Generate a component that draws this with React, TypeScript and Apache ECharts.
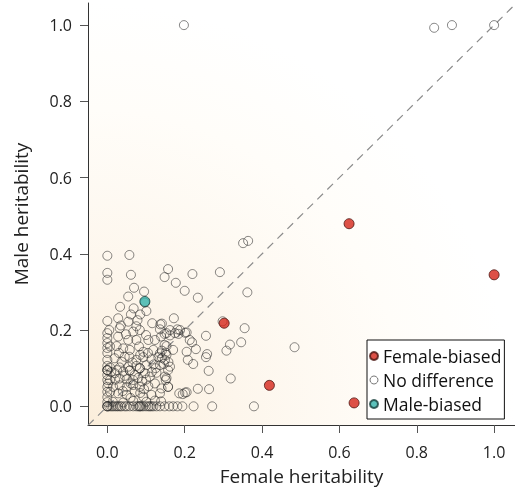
import React, { useEffect, useRef } from "react";
import * as echarts from "echarts";

const tickValues = [0, 0.2, 0.4, 0.6, 0.8, 1.0];

const femaleBiased: number[][] = [
  [0.625, 0.479],
  [1.0, 0.345],
  [0.302, 0.218],
  [0.419, 0.055],
  [0.638, 0.009],
];

const maleBiased: number[][] = [[0.097, 0.275]];

const noDifference: number[][] = [
  [0.198, 1.0], [0.845, 0.993], [0.891, 1.0], [1.0, 1.0], [0.351, 0.428], [0.364, 0.434],
  [0.22, 0.347], [0.291, 0.352], [0.2, 0.303], [0.234, 0.285], [0.362, 0.299], [0.298, 0.223],
  [0.355, 0.205], [0.205, 0.194], [0.188, 0.2], [0.255, 0.185], [0.213, 0.174], [0.219, 0.168],
  [0.229, 0.15], [0.205, 0.143], [0.317, 0.162], [0.308, 0.146], [0.346, 0.168], [0.258, 0.137],
  [0.255, 0.129], [0.208, 0.122], [0.222, 0.111], [0.484, 0.155], [0.262, 0.093], [0.319, 0.073],
  [0.234, 0.046], [0.263, 0.045], [0.205, 0.037], [0.195, 0.032],
  [0.157, 0.36], [0.148, 0.339], [0.177, 0.324], [0.172, 0.231], [0.141, 0.217],
  [0.057, 0.397], [0.061, 0.345], [0.069, 0.311], [0.054, 0.288], [0.095, 0.301], [0.097, 0.272],
  [0.033, 0.261], [0.068, 0.257], [0.101, 0.25], [0.061, 0.241], [0.085, 0.241], [0.028, 0.231],
  [0.054, 0.222], [0.078, 0.226], [0.116, 0.218], [0.137, 0.215], [0.035, 0.212], [0.075, 0.21],
  [0.162, 0.2], [0.181, 0.202], [0.136, 0.202], [0.139, 0.183], [0.153, 0.192],
  [0.148, 0.19], [0.162, 0.186], [0.175, 0.192], [0.184, 0.19], [0.201, 0.193],
  [0.148, 0.161], [0.141, 0.146], [0.151, 0.141], [0.141, 0.127], [0.158, 0.116], [0.146, 0.111],
  [0.157, 0.095], [0.153, 0.074], [0.151, 0.069], [0.157, 0.051], [0.186, 0.034], [0.201, 0.036],
  [0.139, 0.013],
  [0.005, 0.2], [0.032, 0.205], [0.028, 0.183], [0.048, 0.189], [0.067, 0.196], [0.084, 0.2],
  [0.1, 0.187], [0.106, 0.174], [0.123, 0.174], [0.075, 0.174], [0.054, 0.174],
  [0.007, 0.157], [0.024, 0.158], [0.041, 0.152], [0.058, 0.148], [0.082, 0.157], [0.093, 0.143],
  [0.119, 0.148], [0.136, 0.139], [0.153, 0.158], [0.153, 0.135], [0.17, 0.148],
  [0.019, 0.126], [0.037, 0.117], [0.057, 0.13], [0.075, 0.122], [0.093, 0.129], [0.114, 0.123],
  [0.132, 0.129], [0.149, 0.122], [0.162, 0.104], [0.136, 0.108], [0.101, 0.108], [0.075, 0.106],
  [0.054, 0.104], [0.032, 0.102], [0.007, 0.102],
  [0.019, 0.087], [0.041, 0.091], [0.058, 0.094], [0.058, 0.094], [0.071, 0.082], [0.084, 0.1],
  [0.084, 0.1], [0.097, 0.087], [0.11, 0.078], [0.127, 0.088], [0.149, 0.078], [0.032, 0.073],
  [0.05, 0.071], [0.067, 0.069], [0.007, 0.069],
  [0.002, 0.06], [0.015, 0.051], [0.032, 0.055], [0.05, 0.051], [0.067, 0.056], [0.084, 0.051],
  [0.106, 0.053], [0.123, 0.06], [0.14, 0.047], [0.157, 0.051], [0.007, 0.038], [0.028, 0.034],
  [0.05, 0.03], [0.071, 0.038], [0.093, 0.025], [0.114, 0.03], [0.136, 0.034],
  [0.014, 0.012], [0.041, 0.01], [0.067, 0.014], [0.101, 0.012], [0.123, 0.015],
  [0.01, 0.09], [0.025, 0.095], [0.045, 0.08], [0.06, 0.06], [0.08, 0.075], [0.09, 0.065],
  [0.1, 0.07], [0.115, 0.09], [0.125, 0.1], [0.03, 0.14], [0.045, 0.13], [0.065, 0.115],
  [0.085, 0.135], [0.105, 0.14], [0.12, 0.11], [0.04, 0.04], [0.06, 0.022], [0.085, 0.035],
  [0.02, 0.07], [0.095, 0.045],
  [0, 0.395], [0, 0.35], [0, 0.332], [0, 0.224], [0, 0.192], [0, 0.179], [0, 0.166], [0, 0.153],
  [0, 0.14], [0, 0.122], [0, 0.106], [0, 0.095], [0, 0.095], [0, 0.095], [0, 0.082], [0, 0.069],
  [0, 0.051], [0, 0.038], [0, 0.024], [0, 0.011], [0, 0], [0, 0], [0, 0],
  [0.005, 0], [0.01, 0], [0.014, 0], [0.019, 0], [0.024, 0], [0.028, 0], [0.033, 0], [0.037, 0],
  [0.045, 0], [0.05, 0], [0.058, 0], [0.067, 0], [0.075, 0], [0.08, 0], [0.084, 0], [0.084, 0],
  [0.088, 0], [0.093, 0], [0.1, 0], [0.106, 0], [0.11, 0], [0.114, 0], [0.119, 0], [0.127, 0],
  [0.136, 0], [0.148, 0], [0.16, 0], [0.17, 0], [0.181, 0], [0.194, 0], [0.223, 0], [0.271, 0],
  [0.379, 0],
];

const diagonal: number[][] = [
  [-0.05, -0.05],
  [1.054, 1.054],
];

const FONT = "Open Sans";

export default function App() {
  const ref = useRef<HTMLDivElement>(null);
  useEffect(() => {
    if (!ref.current) return;
    const chart = echarts.init(ref.current, undefined, { renderer: "svg" });
    const axisCommon = {
      type: "value" as const,
      splitLine: { show: false },
      axisLine: { show: true, onZero: false, lineStyle: { color: "#333", width: 1 } },
      axisTick: {
        show: true,
        inside: false,
        length: 8,
        lineStyle: { color: "#555", width: 1 },
        customValues: tickValues,
      },
      axisLabel: {
        customValues: tickValues,
        formatter: (v: number) => v.toFixed(1),
        color: "#222",
        fontSize: 16,
        fontFamily: FONT,
      },
      nameLocation: "middle" as const,
      nameTextStyle: { color: "#222", fontSize: 19, fontFamily: FONT },
    };
    chart.setOption({
      animation: false,
      grid: {
        left: 88,
        right: 0,
        top: 3,
        bottom: 68,
        show: true,
        borderWidth: 0,
        backgroundColor: new echarts.graphic.RadialGradient(0, 1, 1.0, [
          { offset: 0, color: "#fbeedb" },
          { offset: 0.35, color: "#fdf6ec" },
          { offset: 0.75, color: "#fffdf9" },
          { offset: 1, color: "#ffffff" },
        ]),
      },
      xAxis: {
        ...axisCommon,
        min: -0.05,
        max: 1.054,
        name: "Female heritability",
        nameGap: 41,
        axisLabel: { ...axisCommon.axisLabel, margin: 19 },
      },
      yAxis: {
        ...axisCommon,
        min: -0.049,
        max: 1.058,
        name: "Male heritability",
        nameGap: 58,
        axisLabel: { ...axisCommon.axisLabel, margin: 16 },
      },
      legend: {
        orient: "vertical",
        left: 367,
        top: 340,
        padding: [4, 3, 3, 2],
        itemGap: 0,
        itemWidth: 8,
        itemHeight: 8,
        backgroundColor: "#fff",
        borderColor: "#111",
        borderWidth: 1,
        borderRadius: 0,
        icon: "circle",
        textStyle: { fontSize: 17.5, fontFamily: FONT, color: "#111", lineHeight: 24 },
        data: [
          { name: "Female-biased" },
          { name: "No difference", itemStyle: { color: "#fff", borderColor: "#555", borderWidth: 1 } },
          { name: "Male-biased" },
        ],
      },
      series: [
        {
          type: "line",
          name: "diag",
          data: diagonal,
          symbol: "none",
          silent: true,
          lineStyle: { color: "#8c8c8c", width: 1.2, type: [8, 6] },
          z: 1,
        },
        {
          type: "scatter",
          name: "No difference",
          data: noDifference,
          symbol: "circle",
          symbolSize: 9,
          itemStyle: {
            color: "rgba(255,255,255,0)",
            borderColor: "rgba(40,40,40,0.7)",
            borderWidth: 1,
          },
          z: 2,
        },
        {
          type: "scatter",
          name: "Female-biased",
          data: femaleBiased,
          symbol: "circle",
          symbolSize: 10,
          itemStyle: { color: "#d4261a", borderColor: "#4a1410", borderWidth: 1 },
          z: 3,
        },
        {
          type: "scatter",
          name: "Male-biased",
          data: maleBiased,
          symbol: "circle",
          symbolSize: 10,
          itemStyle: { color: "#35b3ab", borderColor: "#163e3b", borderWidth: 1 },
          z: 3,
        },
      ],
    });
    return () => chart.dispose();
  }, []);
  return (
    <div
      ref={ref}
      style={{ position: "fixed", left: 0, top: 0, width: 515, height: 493 }}
    />
  );
}
